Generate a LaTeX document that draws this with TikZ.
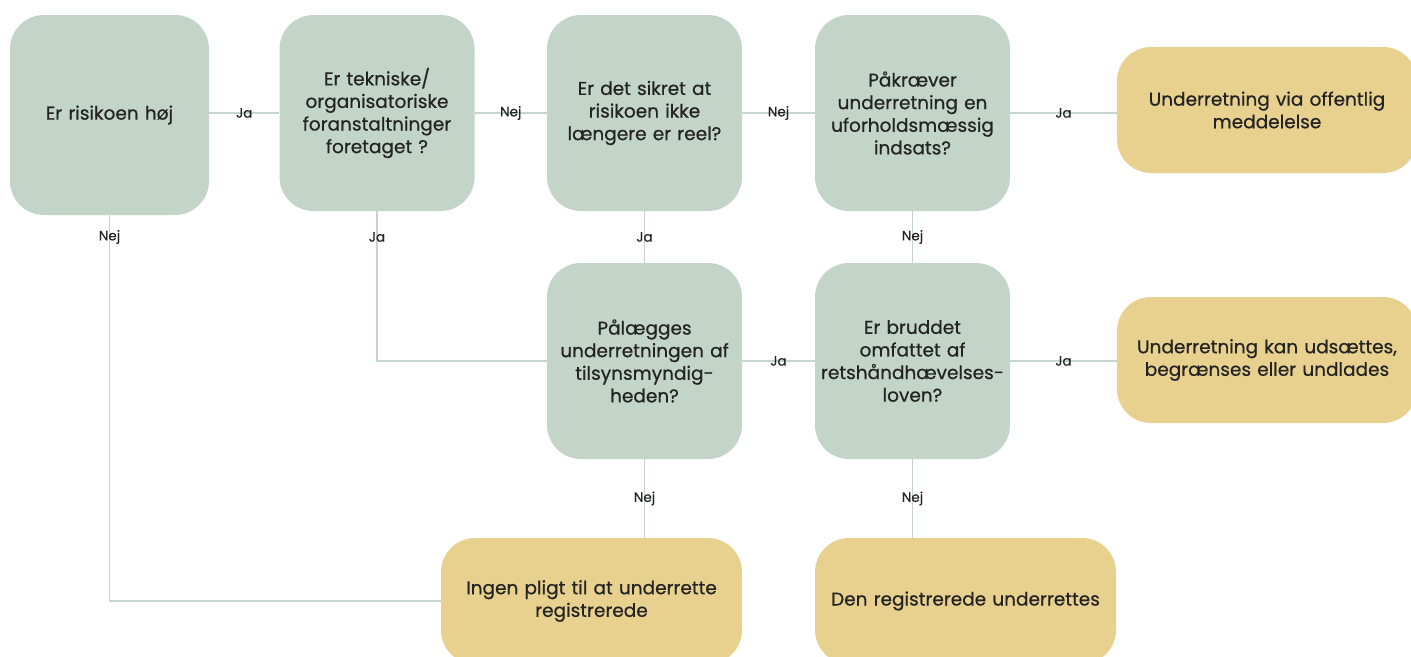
\documentclass[tikz,border=0pt]{standalone}
\usepackage{fontspec}
\setmainfont{Poppins}[UprightFeatures={FakeBold=0.6}]
\usetikzlibrary{calc}
\definecolor{sage}{HTML}{C3D4C9}
\definecolor{sand}{HTML}{E8D18F}
\definecolor{wire}{HTML}{C6D5CD}
\definecolor{ink}{HTML}{232323}
\begin{document}
\begin{tikzpicture}[x=1pt,y=-1pt,
  question/.style={fill=sage, rounded corners=34pt, minimum width=195pt, minimum height=196pt,
    inner sep=0pt, align=center, text width=190pt, text=ink,
    font=\fontsize{18.5}{22.6}\selectfont},
  outcome/.style={fill=sand, rounded corners=34pt, minimum width=301pt, minimum height=126pt,
    inner sep=0pt, align=center, text width=295pt, text=ink,
    font=\fontsize{18.5}{22.6}\selectfont},
  link/.style={draw=wire, line width=1.4pt},
  lbl/.style={font=\fontsize{13.5}{15}\selectfont, text=ink, inner sep=1pt}
]
\useasboundingbox (0,0) rectangle (1411,656);
\clip (0,0) rectangle (1411,656);

% decision boxes, top row
\node[question, minimum width=199pt, minimum height=200pt] (A) at (109.5,115) {Er risikoen høj};
\node[question] (B) at (377,113) {Er tekniske/\\organisatoriske\\foranstaltninger\\foretaget ?};
\node[question] (C) at (644.5,113) {Er det sikret at\\risikoen ikke\\længere er reel?};
\node[question] (D) at (912.5,113) {Påkræver\\underretning en\\uforholdsmæssig\\indsats?};

% decision boxes, middle row
\node[question] (G) at (644.5,361) {Pålægges\\underretningen af\\tilsynsmyndig-\\heden?};
\node[question] (H) at (912.5,361) {Er bruddet\\omfattet af\\retshåndhævelses-\\loven?};

% outcomes
\node[outcome, minimum width=300pt] (E) at (1267,110) {Underretning via offentlig\\meddelelse};
\node[outcome, minimum width=300pt] (F) at (1267,360) {Underretning kan udsættes,\\begrænses eller undlades};
\node[outcome] (I) at (591.5,601) {Ingen pligt til at underrette\\registrerede};
\node[outcome] (J) at (965.5,601) {Den registrerede underrettes};

\coordinate (row) at (0,237);

% connectors
\draw[link] (A.east |- B.east) -- node[lbl]{Ja} (B.west);
\draw[link] (B.east) -- node[lbl]{Nej} (C.west);
\draw[link] (C.east) -- node[lbl]{Nej} (D.west);
\draw[link] (D.east) -- node[lbl]{Ja} (D.east -| E.west);
\draw[link] (G.east) -- node[lbl]{Ja} (H.west);
\draw[link] (H.east) -- node[lbl]{Ja} (H.east -| F.west);

\draw[link] (A.south) |- (I.west);
\node[lbl] at (A.south |- row) {Nej};
\draw[link] (B.south) |- (G.west);
\node[lbl] at (B.south |- row) {Ja};
\draw[link] (C.south) -- node[lbl]{Ja} (G.north);
\draw[link] (D.south) -- node[lbl]{Nej} (H.north);
\draw[link] (G.south) -- node[lbl]{Nej} (G.south |- I.north);
\draw[link] (H.south) -- node[lbl]{Nej} (H.south |- J.north);
\end{tikzpicture}
\end{document}
